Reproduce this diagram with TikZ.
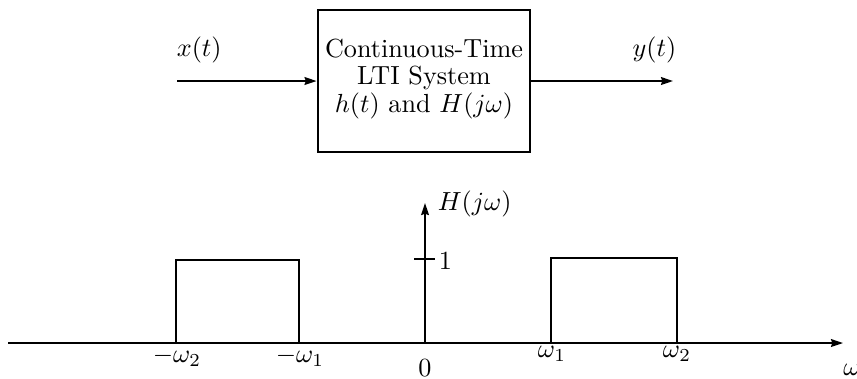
\documentclass[tikz,border=0pt]{standalone}
\usetikzlibrary{arrows.meta}
\newcommand{\boxlines}{\fontsize{10}{10.4}\selectfont}
\begin{document}
\begin{tikzpicture}[x=0.382pt,y=-0.382pt, line width=0.6pt,
  >={Stealth[length=4.6pt,width=3pt,inset=0.5pt]},
  lbl/.style={inner sep=0pt, font=\fontsize{10}{12}\selectfont},
  pulse/.style={line width=0.75pt}]
\useasboundingbox (0,0) rectangle (857,378);
% block diagram
\node[draw, line width=0.8pt, minimum width=81.3pt, minimum height=54.2pt, inner sep=0pt] (sys) at (424,81) {};
\node[lbl, align=center, font=\boxlines] (systxt) at (424,79) {Continuous-Time\\LTI System\\$h(t)$ and $H(j\omega)$};
\coordinate (in) at (177,81);
\coordinate (out) at (673,81);
\draw[->] (in) -- (sys.west);
\draw[->] (sys.east) -- (out);
\node[lbl, anchor=base west] (xt) at (176,56) {$x(t)$};
\node[lbl, anchor=base east] (yt) at (677,56) {$y(t)$};
% frequency response
\coordinate (wl) at (8,343);
\coordinate (wr) at (843,343);
\coordinate (org) at (425,343);
\coordinate (ytop) at (425,203);
\draw[->] (wl) -- (wr);
\draw[->] (org) -- (ytop);
\coordinate (tl) at (414,259);
\coordinate (tr) at (435,259);
\draw (tl) -- (tr);
\coordinate (a1) at (176,343);
\coordinate (a2) at (299,260);
\coordinate (a3) at (299,343);
\draw[pulse] (a1) |- (a2) -- (a3);
\coordinate (b1) at (551,343);
\coordinate (b2) at (677,258);
\coordinate (b3) at (677,343);
\draw[pulse] (b1) |- (b2) -- (b3);
\node[lbl, anchor=base west] (Hl) at (437,210) {$H(j\omega)$};
\node[lbl, anchor=west] (one) at (438,261) {$1$};
\node[lbl] (mw2) at (177,357) {$-\omega_2$};
\node[lbl] (mw1) at (300,357) {$-\omega_1$};
\node[lbl] (zero) at (425,368) {$0$};
\node[lbl] (w1) at (552,354) {$\omega_1$};
\node[lbl] (w2) at (677,354) {$\omega_2$};
\node[lbl] (w) at (852,370) {$\omega$};
\end{tikzpicture}
\end{document}
